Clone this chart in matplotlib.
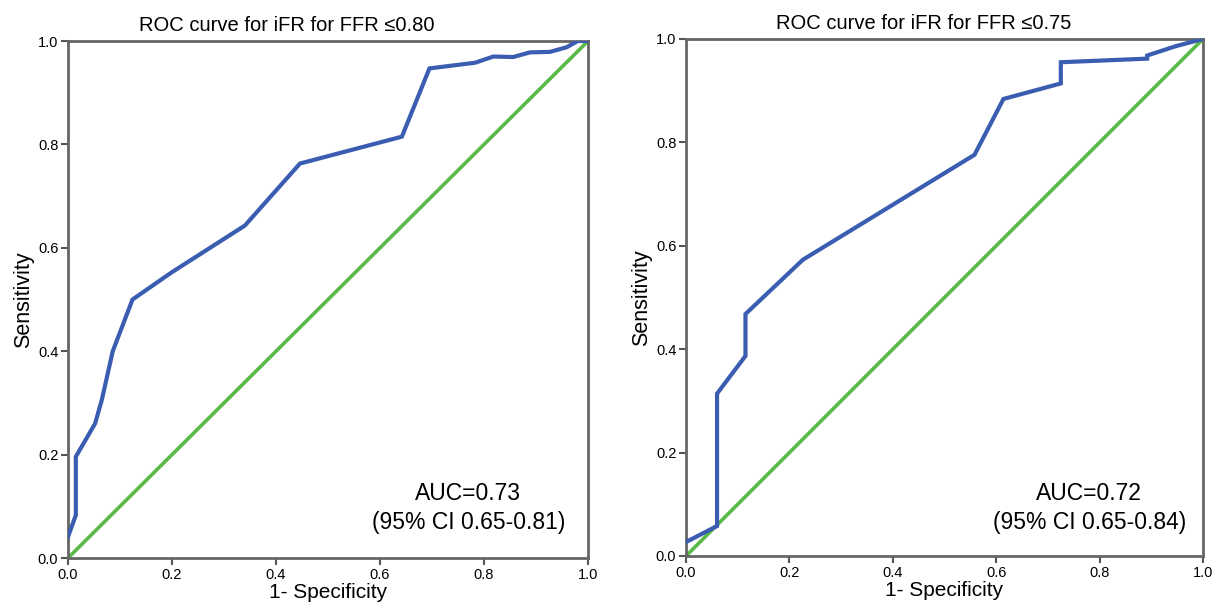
#ROC curves of iFR against two FFR cut-offs

import numpy as np
import matplotlib.pyplot as plt

plt.rcParams['font.family'] = ['Liberation Sans', 'DejaVu Sans']

#FFR <= 0.80
fpr1 = [0.0, 0.015, 0.015, 0.052, 0.065, 0.086, 0.124, 0.20, 0.34, 0.446,
        0.642, 0.695, 0.783, 0.818, 0.856, 0.888, 0.927, 0.959, 0.98, 1.0]
tpr1 = [0.041, 0.083, 0.196, 0.26, 0.306, 0.40, 0.50, 0.553, 0.643, 0.763,
        0.815, 0.947, 0.958, 0.97, 0.969, 0.978, 0.979, 0.988, 1.0, 1.0]
auc1 = "AUC=0.73\n(95% CI 0.65-0.81)"

#FFR <= 0.75
fpr2 = [0.0, 0.06, 0.06, 0.115, 0.115, 0.188, 0.226, 0.558, 0.614,
        0.725, 0.725, 0.892, 0.892, 0.947, 1.0]
tpr2 = [0.027, 0.058, 0.314, 0.387, 0.468, 0.537, 0.573, 0.776, 0.884,
        0.914, 0.955, 0.962, 0.968, 0.986, 1.0]
auc2 = "AUC=0.72\n(95% CI 0.65-0.84)"

ticks = [0.0, 0.2, 0.4, 0.6, 0.8, 1.0]
ticklabels = ["0.0", "0.2", "0.4", "0.6", "0.8", "1.0"]

fig = plt.figure(figsize=(12.17, 6.13), dpi=100)
ax1 = fig.add_axes([0.0559, 0.0897, 0.4273, 0.8434])
ax2 = fig.add_axes([0.5637, 0.0930, 0.4248, 0.8434])

def rocplot(ax, fpr, tpr, titlestr, auctext, titlex, textpos):
    ax.plot([0, 1], [0, 1], color='#5ab947', lw=2.6, zorder=2)
    ax.plot(fpr, tpr, color='#3a5db2', lw=3, zorder=3, solid_joinstyle='miter')
    ax.set_xlim(0, 1)
    ax.set_ylim(0, 1)
    ax.set_xticks(ticks)
    ax.set_xticklabels(ticklabels)
    ax.set_yticks(ticks)
    ax.set_yticklabels(ticklabels)
    ax.tick_params(direction='out', length=5, width=1.5, color='#555555',
                   labelsize=10.5, pad=2)
    for s in ax.spines.values():
        s.set_color('#666666')
        s.set_linewidth(2)
    ax.set_xlabel("1- Specificity", size=15, labelpad=1)
    ax.set_ylabel("Sensitivity", size=15.5, labelpad=3)
    ax.set_title(titlestr, size=14.5, x=titlex, pad=7)
    ax.text(textpos[0], textpos[1], auctext, transform=ax.transAxes,
            ha='center', va='center', size=16.5, linespacing=1.3)

rocplot(ax1, fpr1, tpr1, "ROC curve for iFR for FFR \u22640.80", auc1, 0.421, (0.77, 0.097))
rocplot(ax2, fpr2, tpr2, "ROC curve for iFR for FFR \u22640.75", auc2, 0.46, (0.78, 0.093))

plt.savefig("out.png", dpi=100)
